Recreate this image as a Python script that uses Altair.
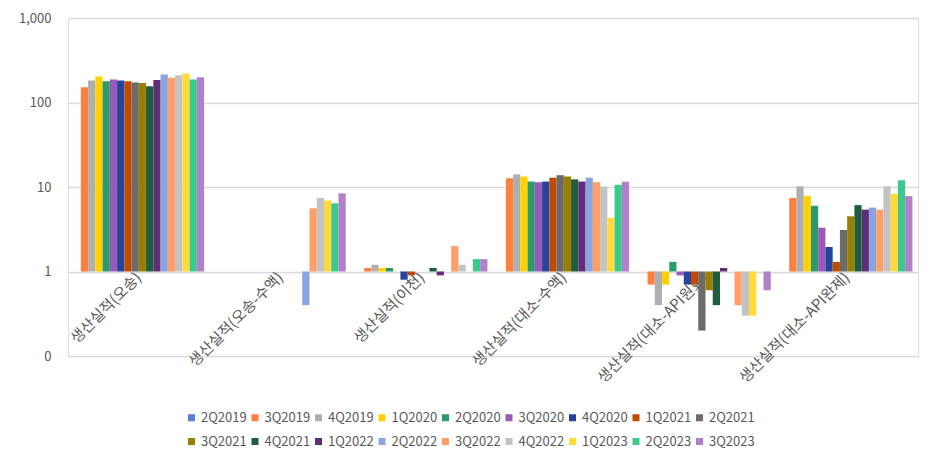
import altair as alt
import pandas as pd

categories = ["생산실적(오송)", "생산실적(오송-수액)", "생산실적(이천)",
              "생산실적(대소-수액)", "생산실적(대소-API원료)", "생산실적(대소-API완제)"]

series = ["2Q2019", "3Q2019", "4Q2019", "1Q2020", "2Q2020", "3Q2020", "4Q2020",
          "1Q2021", "2Q2021", "3Q2021", "4Q2021", "1Q2022", "2Q2022", "3Q2022",
          "4Q2022", "1Q2023", "2Q2023", "3Q2023"]

colors = ["#5A7FD6", "#FF7F3F", "#AFAFAF", "#FFD100", "#2C9A6C", "#9B59BB", "#25449A",
          "#C04A00", "#6B6B6B", "#9A8000", "#1E5D40", "#5E2E78", "#8CA3E2", "#FF9E66",
          "#C3C3C3", "#FFDB3A", "#3CC98E", "#B27FCB"]

# values per category, in series order (None = no bar)
osong = [None, 152, 182, 203, 179, 187, 182, 179, 172, 170, 156, 185, 214, 196, 210, 220, 187, 199]
osong_sueak = [None, None, None, None, None, None, None, None, None, None, None, None, 0.4, 5.6, 7.4, 6.9, 6.4, 8.4]
icheon = [None, 1.1, 1.2, 1.1, 1.1, None, 0.8, 0.9, None, None, 1.1, 0.9, None, 2.0, 1.2, None, 1.4, 1.4]
daeso_sueak = [None, 12.7, 14.1, 13.3, 11.6, 11.4, 11.6, 12.9, 13.8, 13.3, 12.3, 11.6, 12.9, 11.4, 10.1, 4.3, 10.6, 11.5]
daeso_api_raw = [None, 0.7, 0.4, 0.7, 1.3, 0.9, 0.7, 0.7, 0.2, 0.6, 0.4, 1.1, None, 0.4, 0.3, 0.3, None, 0.6]
daeso_api_fin = [None, 7.4, 10.2, 7.8, 6.0, 3.3, 1.95, 1.3, 3.1, 4.5, 6.1, 5.4, 5.7, 5.4, 10.2, 8.3, 12.0, 7.8]

all_vals = [osong, osong_sueak, icheon, daeso_sueak, daeso_api_raw, daeso_api_fin]

rows = []
for cat, vals in zip(categories, all_vals):
    for s, v in zip(series, vals):
        if v is not None:
            rows.append({"cat": cat, "series": s, "value": v, "base": 1})
df = pd.DataFrame(rows)

FONT = "Noto Sans CJK KR"
GRAY = "#595959"

chart = alt.Chart(df).mark_bar(strokeWidth=0).encode(
    x=alt.X("cat:N", sort=categories, title=None,
            scale=alt.Scale(paddingInner=0.079, paddingOuter=0.0395),
            axis=alt.Axis(labelAngle=-45, labelAlign="right", labelBaseline="middle",
                          domain=False, ticks=False, offset=-84.5, labelPadding=3,
                          labelFontSize=15, labelColor=GRAY, labelFont=FONT,
                          labelOverlap=False, labelLimit=400, grid=False, zindex=0)),
    xOffset=alt.XOffset("series:N", sort=series,
                        scale=alt.Scale(domain=series, paddingInner=0, paddingOuter=0)),
    y=alt.Y("value:Q", title=None,
            scale=alt.Scale(type="log", domain=[0.1, 1000], nice=False),
            axis=alt.Axis(values=[0.1, 1, 10, 100, 1000],
                          labelExpr="datum.value < 1 ? '0' : format(datum.value, ',')",
                          domain=False, ticks=False, labelPadding=17,
                          labelFontSize=13, labelColor=GRAY, labelFont=FONT,
                          gridColor="#D9D9D9", gridWidth=1.5, zindex=0)),
    y2="base:Q",
    color=alt.Color("series:N", sort=series,
                    scale=alt.Scale(domain=series, range=colors),
                    legend=alt.Legend(orient="none", legendX=117, legendY=393,
                                      direction="horizontal", columns=9, title=None,
                                      symbolType="square", symbolSize=49,
                                      symbolStrokeWidth=0, labelFontSize=13,
                                      labelColor=GRAY, labelFont=FONT, labelOffset=3,
                                      columnPadding=1.5, rowPadding=10, padding=0)),
).properties(
    width=850, height=338,
    autosize=alt.AutoSizeParams(type="none"),
    padding={"left": 60, "top": 10, "right": 10, "bottom": 98},
).configure_view(stroke=None).configure(font=FONT)

chart.save("out.html", embed_options={"renderer": "svg", "actions": False})
